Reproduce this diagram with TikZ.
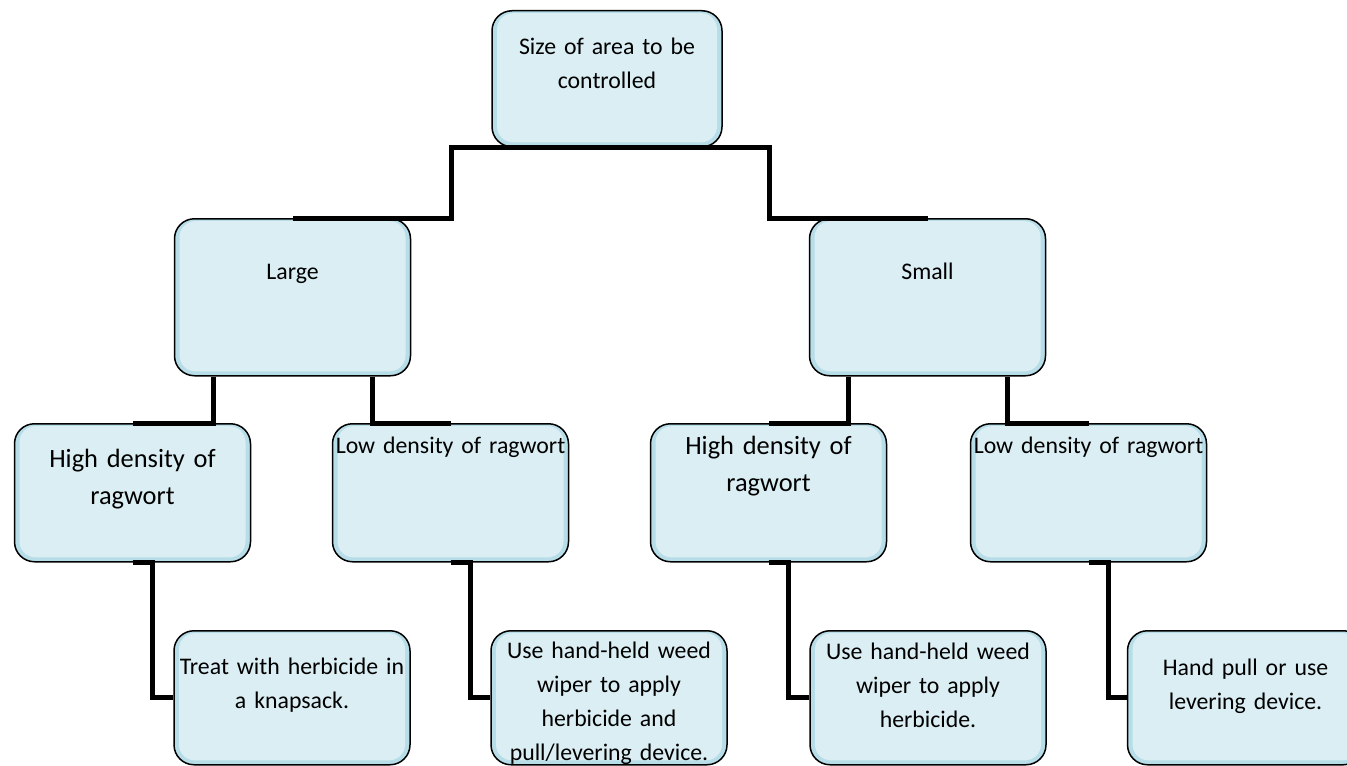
\documentclass[tikz,border=0pt]{standalone}
\usepackage{fontspec}
\setmainfont{Carlito}
\usepackage{tikz}
\definecolor{BoxFace}{HTML}{DAEEF3}
\definecolor{BoxEdge}{HTML}{B7DDE8}
\newcommand{\chartfont}{\fontsize{11.9}{17}\selectfont}
\newcommand{\bigchartfont}{\fontsize{13.2}{18.5}\selectfont}
\tikzset{%
  ChartBox/.style={draw=black,line width=0.75pt,rounded corners=10pt,fill=BoxEdge,
    anchor=north,align=center,text width=116pt,inner xsep=1pt,inner ysep=0pt,font=\chartfont,
    path picture={\fill[BoxFace,rounded corners=8pt]
      ([xshift=2.5pt,yshift=-1.2pt]path picture bounding box.north west) rectangle
      ([xshift=-2.5pt,yshift=2.2pt]path picture bounding box.south east);}},
  ChartLink/.style={draw=black,line width=2.5pt,line join=miter}
}

\begin{document}
\begin{tikzpicture}[x=0.5pt,y=-0.5pt]
  \useasboundingbox (0,0) rectangle (1347,765);
  \clip (0,0) rectangle (1347,765);
  \node[ChartBox,text width=113pt,text height=22pt,text depth=46pt] (size) at (607,10)
    {Size of area to be\\controlled};
  \node[ChartBox,text height=30.5pt,text depth=48pt] (large) at (292.5,218) {Large};
  \node[ChartBox,text height=30.5pt,text depth=48pt] (small) at (927.5,218) {Small};
  \node[ChartBox,font=\bigchartfont,text height=22pt,text depth=47pt] (highL) at (132.5,423)
    {High density of\\ragwort};
  \node[ChartBox,text height=15pt,text depth=54pt] (lowL) at (450.5,423)
    {Low density of ragwort};
  \node[ChartBox,font=\bigchartfont,text height=15.5pt,text depth=53.5pt] (highS) at (768.5,423)
    {High density of\\ragwort};
  \node[ChartBox,text height=15pt,text depth=54pt] (lowS) at (1088.5,423)
    {Low density of ragwort};
  \node[ChartBox,text height=22pt,text depth=45pt] (treat) at (292,630)
    {Treat with herbicide in\\a knapsack.};
  \node[ChartBox,text height=14pt,text depth=53pt] (wipeL) at (609,630)
    {Use hand-held weed\\wiper to apply\\herbicide and\\pull/levering device.};
  \node[ChartBox,text height=14.5pt,text depth=52.5pt] (wipeS) at (928,630)
    {Use hand-held weed\\wiper to apply\\herbicide.};
  \node[ChartBox,text height=22.5pt,text depth=44.5pt] (pull) at (1245.5,630)
    {Hand pull or use\\levering device.};

  \draw[ChartLink] (size.south) -- ++(-78pt,0pt) |- (large.north);
  \draw[ChartLink] (size.south) -- ++(81pt,0pt) |- (small.north);
  \foreach \parent/\left/\right in {large/highL/lowL,small/highS/lowS}{
    \draw[ChartLink] ([xshift=-39.75pt]\parent.south) |- (\left.north);
    \draw[ChartLink] ([xshift=39.75pt]\parent.south) |- (\right.north);
  }
  \foreach \parent/\child in {highL/treat,lowL/wipeL,highS/wipeS,lowS/pull}{
    \draw[ChartLink] (\parent.south) -- ++(10pt,0pt) |- (\child.west);
  }
\end{tikzpicture}
\end{document}
